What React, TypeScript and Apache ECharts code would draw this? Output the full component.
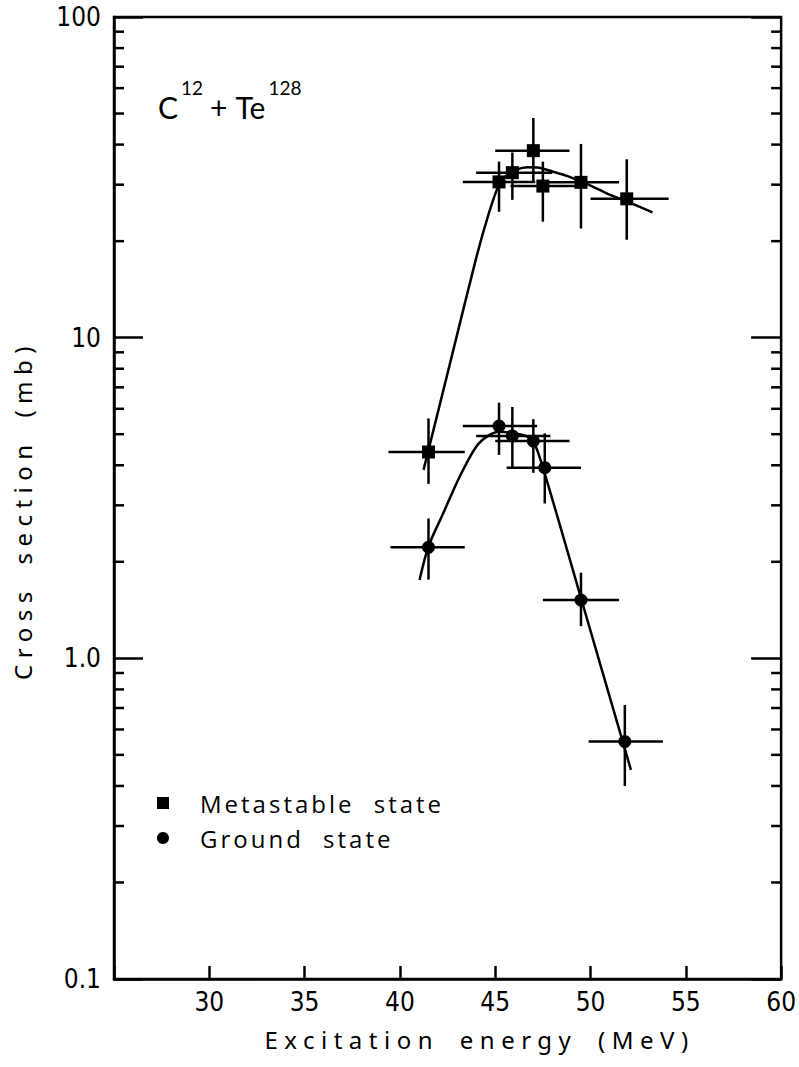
import React, { useEffect, useRef } from "react";
import * as echarts from "echarts";

// Axis ranges
const energyMin = 25;
const energyMax = 60;
const energyStep = 5;
const sigmaMin = 0.1;
const sigmaMax = 100;
const sigmaTickValues = [0.1, 1, 10, 100];
const sigmaTickLabels = ["0.1", "1.0", "10", "100"];
const minorTickValues = [
  0.2, 0.3, 0.4, 0.5, 0.6, 0.7, 0.8, 0.9,
  2, 3, 4, 5, 6, 7, 8, 9,
  20, 30, 40, 50, 60, 70, 80, 90,
];

// Metastable state (squares): energy (MeV), cross section (mb), and error limits
const metaEnergy = [41.5, 45.2, 45.9, 47.0, 47.5, 49.5, 51.9];
const metaSigma = [4.4, 30.6, 32.7, 38.3, 29.7, 30.5, 27.1];
const metaEnergyLow = [39.4, 43.3, 44.0, 45.0, 45.8, 47.4, 50.0];
const metaEnergyHigh = [43.4, 47.1, 48.0, 48.9, 49.5, 51.5, 54.1];
const metaSigmaLow = [3.5, 24.7, 26.9, 30.6, 23.0, 21.9, 20.2];
const metaSigmaHigh = [5.6, 35.4, 37.8, 48.4, 35.4, 40.2, 36.0];

// Ground state (circles)
const groundEnergy = [41.5, 45.2, 45.9, 47.0, 47.6, 49.5, 51.8];
const groundSigma = [2.22, 5.3, 4.94, 4.76, 3.93, 1.52, 0.55];
const groundEnergyLow = [39.5, 43.3, 44.0, 45.0, 45.6, 47.5, 49.9];
const groundEnergyHigh = [43.4, 47.2, 47.9, 48.9, 49.5, 51.5, 53.8];
const groundSigmaLow = [1.76, 4.31, 3.94, 3.79, 3.04, 1.26, 0.4];
const groundSigmaHigh = [2.73, 6.27, 6.08, 5.57, 5.03, 1.85, 0.715];

// Hand-drawn excitation curves
const metaCurveEnergy = [41.24, 42.6, 44.0, 44.7, 45.2, 45.6, 46.1, 46.7, 47.3, 48.0, 48.8, 49.9, 50.9, 51.9, 53.25];
const metaCurveSigma = [3.87, 8.18, 17.7, 24.8, 30.0, 32.0, 33.4, 34.0, 33.9, 33.0, 31.9, 30.0, 28.1, 26.6, 24.6];
const groundCurveEnergy = [41.03, 41.5, 42.28, 43.14, 44.0, 44.6, 45.2, 46.07, 46.6, 47.0, 47.5, 49.53, 52.12];
const groundCurveSigma = [1.755, 2.235, 2.84, 3.69, 4.57, 4.93, 5.09, 5.03, 4.94, 4.76, 3.94, 1.52, 0.449];

const seriesNames = ["Metastable state", "Ground state"];

const tickFont = "'Liberation Sans Narrow', 'DejaVu Sans Condensed', 'Roboto Condensed', 'Liberation Sans', sans-serif";
const nameFont = "'Noto Sans', sans-serif";
const legendFont = "'Open Sans', sans-serif";
const titleFont = "Lato, sans-serif";

const css = `
.chart-host text[style*="Noto Sans"], .chart-host text[font-family*="Noto Sans"] { letter-spacing: 6.5px; word-spacing: 8px; }
.chart-host text[style*="Open Sans"], .chart-host text[font-family*="Open Sans"] { letter-spacing: 3px; word-spacing: 10px; }
`;

const black = "#000";
const stroke = 2.5;

function errorRows(e: number[], s: number[], eLo: number[], eHi: number[], sLo: number[], sHi: number[]) {
  return e.map((v, i) => [v, s[i], eLo[i], eHi[i], sLo[i], sHi[i]]);
}

function renderErrorBar(_params: any, api: any) {
  const x = api.value(0);
  const y = api.value(1);
  const left = api.coord([api.value(2), y]);
  const right = api.coord([api.value(3), y]);
  const bottom = api.coord([x, api.value(4)]);
  const top = api.coord([x, api.value(5)]);
  const style = { stroke: black, lineWidth: stroke };
  return {
    type: "group",
    children: [
      { type: "line", shape: { x1: left[0], y1: left[1], x2: right[0], y2: right[1] }, style },
      { type: "line", shape: { x1: bottom[0], y1: bottom[1], x2: top[0], y2: top[1] }, style },
    ],
  };
}

function renderMinorTick(_params: any, api: any) {
  const v = api.value(1);
  const l = api.coord([energyMin, v]);
  const r = api.coord([energyMax, v]);
  const style = { stroke: black, lineWidth: stroke };
  return {
    type: "group",
    children: [
      { type: "line", shape: { x1: l[0], y1: l[1], x2: l[0] + 10, y2: l[1] }, style },
      { type: "line", shape: { x1: r[0], y1: r[1], x2: r[0] - 10, y2: r[1] }, style },
    ],
  };
}

function sigmaLabel(v: number) {
  let best = 0;
  for (let i = 1; i < sigmaTickValues.length; i++) {
    if (Math.abs(Math.log10(v) - Math.log10(sigmaTickValues[i])) < Math.abs(Math.log10(v) - Math.log10(sigmaTickValues[best]))) best = i;
  }
  return sigmaTickLabels[best];
}

export default function App() {
  const ref = useRef<HTMLDivElement>(null);

  useEffect(() => {
    document.body.style.margin = "0";
    const chart = echarts.init(ref.current!, null, { renderer: "svg" });
    const option: any = {
      animation: false,
      backgroundColor: "#fff",
      grid: {
        left: 114,
        right: 10,
        top: 17,
        bottom: 88,
        show: true,
        borderColor: black,
        borderWidth: stroke,
      },
      legend: {
        left: 157,
        top: 791,
        orient: "vertical",
        padding: 0,
        itemWidth: 12,
        itemHeight: 12,
        itemGap: 11,
        data: [
          { name: seriesNames[0], icon: "rect" },
          { name: seriesNames[1], icon: "circle" },
        ],
        textStyle: { fontFamily: legendFont, fontSize: 24, color: black, padding: [0, 0, 0, 26] },
      },
      xAxis: {
        type: "value",
        min: energyMin,
        max: energyMax,
        interval: energyStep,
        name: "Excitation energy (MeV)",
        nameLocation: "middle",
        nameGap: 48,
        nameTextStyle: { fontFamily: nameFont, fontSize: 24, color: black, padding: [0, 0, 0, 64] },
        axisLine: { lineStyle: { color: black, width: stroke } },
        axisTick: { inside: true, length: 13, lineStyle: { color: black, width: stroke } },
        axisLabel: {
          margin: 10,
          fontFamily: tickFont,
          fontSize: 26,
          color: black,
          formatter: (v: number) => (v === energyMin ? "" : String(v)),
        },
        splitLine: { show: false },
      },
      yAxis: [
        {
          type: "log",
          logBase: 10,
          min: sigmaMin,
          max: sigmaMax,
          name: "Cross section (mb)",
          nameLocation: "middle",
          nameRotate: 90,
          nameGap: 80,
          nameTextStyle: { fontFamily: nameFont, fontSize: 24, color: black, padding: [0, 24, 0, 0] },
          axisLine: { lineStyle: { color: black, width: stroke } },
          axisTick: { inside: true, length: 29, lineStyle: { color: black, width: stroke } },
          axisLabel: { margin: 13, fontFamily: tickFont, fontSize: 26, color: black, formatter: sigmaLabel },
          splitLine: { show: false },
        },
        {
          type: "log",
          logBase: 10,
          min: sigmaMin,
          max: sigmaMax,
          position: "right",
          axisLine: { show: false },
          axisTick: { inside: true, length: 30, lineStyle: { color: black, width: stroke } },
          axisLabel: { show: false },
          splitLine: { show: false },
        },
      ],
      graphic: [
        {
          type: "text",
          left: 158,
          top: 78,
          z: 10,
          style: {
            text: "{b|C}{s|12}{p|+}{b|Te}{s|128}",
            fill: black,
            rich: {
              b: { fontFamily: titleFont, fontSize: 30, lineHeight: 44, verticalAlign: "bottom", fill: black },
              s: { fontFamily: titleFont, fontSize: 19, lineHeight: 22, verticalAlign: "top", fill: black, padding: [0, 0, 0, 3] },
              p: { fontFamily: titleFont, fontSize: 30, lineHeight: 44, verticalAlign: "bottom", fill: black, padding: [0, 8, 0, 7] },
            },
          },
        },
      ],
      series: [
        {
          name: "minor ticks",
          type: "custom",
          renderItem: renderMinorTick,
          data: minorTickValues.map((v) => [energyMin, v]),
          encode: { x: 0, y: 1 },
          silent: true,
          z: 1,
        },
        {
          name: "Metastable curve",
          type: "line",
          data: metaCurveEnergy.map((e, i) => [e, metaCurveSigma[i]]),
          showSymbol: false,
          smooth: 0.25,
          lineStyle: { color: black, width: stroke },
          silent: true,
          z: 2,
        },
        {
          name: "Ground curve",
          type: "line",
          data: groundCurveEnergy.map((e, i) => [e, groundCurveSigma[i]]),
          showSymbol: false,
          smooth: 0.3,
          lineStyle: { color: black, width: stroke },
          silent: true,
          z: 2,
        },
        {
          name: "Metastable errors",
          type: "custom",
          renderItem: renderErrorBar,
          data: errorRows(metaEnergy, metaSigma, metaEnergyLow, metaEnergyHigh, metaSigmaLow, metaSigmaHigh),
          encode: { x: [0, 2, 3], y: [1, 4, 5] },
          silent: true,
          z: 3,
        },
        {
          name: "Ground errors",
          type: "custom",
          renderItem: renderErrorBar,
          data: errorRows(groundEnergy, groundSigma, groundEnergyLow, groundEnergyHigh, groundSigmaLow, groundSigmaHigh),
          encode: { x: [0, 2, 3], y: [1, 4, 5] },
          silent: true,
          z: 3,
        },
        {
          name: seriesNames[0],
          type: "scatter",
          symbol: "rect",
          symbolSize: 13,
          itemStyle: { color: black, opacity: 1 },
          data: metaEnergy.map((e, i) => [e, metaSigma[i]]),
          z: 4,
        },
        {
          name: seriesNames[1],
          type: "scatter",
          symbol: "circle",
          symbolSize: 13,
          itemStyle: { color: black, opacity: 1 },
          data: groundEnergy.map((e, i) => [e, groundSigma[i]]),
          z: 4,
        },
      ],
    };
    chart.setOption(option);
    return () => chart.dispose();
  }, []);

  return (
    <>
      <style>{css}</style>
      <div ref={ref} className="chart-host" style={{ width: 799, height: 1067 }} />
    </>
  );
}
